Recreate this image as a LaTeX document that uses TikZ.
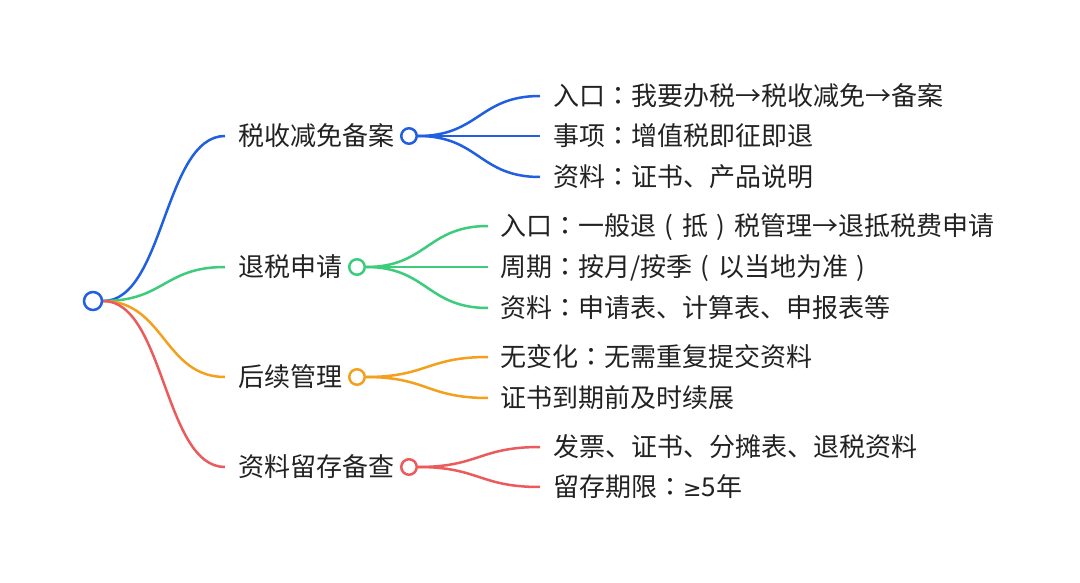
\documentclass[tikz,border=0pt]{standalone}
\usepackage{fontspec}
\setmainfont{Noto Sans CJK SC}
\newfontfamily\tcfont{Noto Sans CJK TC}
\newfontfamily\symfont{DejaVu Sans}
\newcommand\cln{{\tcfont ：}}
\newcommand\lpar{\makebox[1em]{(}}
\newcommand\rpar{\makebox[1em]{)}}
\usetikzlibrary{backgrounds}
\definecolor{cblue}{HTML}{1F5FE0}
\definecolor{cgreen}{HTML}{3DCB7C}
\definecolor{corange}{HTML}{F4A01C}
\definecolor{cred}{HTML}{EC5B5B}
\definecolor{ctext}{HTML}{222222}
\begin{document}
\begin{tikzpicture}[x=1pt,y=-1pt,
  txt/.style={anchor=west,inner sep=0pt,font=\fontsize{26}{30}\selectfont,text=ctext,text height=22.9pt,text depth=3.1pt},
  dot/.style={circle,draw,fill=white,line width=2.5pt,minimum size=15.5pt,inner sep=0pt},
  rootdot/.style={dot,minimum size=18pt},
  link/.style={line width=2.5pt}]
\useasboundingbox (0,0) rectangle (1080,583);

\node[rootdot,draw=cblue] (root) at (93,301) {};

% branch 1
\node[txt] (b1) at (238,136) {税收减免备案};
\node[dot,draw=cblue] (c1) at (409,136) {};
\node[txt] (k11) at (553,96) {入口\cln 我要办税→税收减免→备案};
\node[txt] (k12) at (553,136) {事项\cln 增值税即征即退};
\node[txt] (k13) at (553,177) {资料\cln 证书、产品说明};

% branch 2
\node[txt] (b2) at (238,267) {退税申请};
\node[dot,draw=cgreen] (c2) at (357,267) {};
\node[txt] (k21) at (500,226) {入口\cln 一般退\lpar 抵\rpar 税管理→退抵税费申请};
\node[txt] (k22) at (500,267) {周期\cln 按月/按季\lpar 以当地为准\rpar};
\node[txt] (k23) at (500,308) {资料\cln 申请表、计算表、申报表等};

% branch 3
\node[txt] (b3) at (238,377) {后续管理};
\node[dot,draw=corange] (c3) at (357,377) {};
\node[txt] (k31) at (500,357) {无变化\cln 无需重复提交资料};
\node[txt] (k32) at (500,398) {证书到期前及时续展};

% branch 4
\node[txt] (b4) at (238,467) {资料留存备查};
\node[dot,draw=cred] (c4) at (409,467) {};
\node[txt] (k41) at (553,447) {发票、证书、分摊表、退税资料};
\node[txt] (k42) at (553,487) {留存期限\cln {\symfont\fontsize{22}{26}\selectfont ≥}5年};

\begin{pgfonlayer}{background}
\fill[white] (0,0) rectangle (1080,583);
\foreach \b/\c in {b1/cblue,b2/cgreen,b3/corange,b4/cred}
  \draw[link,\c] (root.east) .. controls +(61,0) and +(-61,0) .. ([xshift=-13pt]\b.west);
\foreach \k in {k11,k12,k13}
  \draw[link,cblue] (c1.east) .. controls +(61,0) and +(-61,0) .. ([xshift=-13pt]\k.west);
\foreach \k in {k21,k22,k23}
  \draw[link,cgreen] (c2.east) .. controls +(61,0) and +(-61,0) .. ([xshift=-12pt]\k.west);
\foreach \k in {k31,k32}
  \draw[link,corange] (c3.east) .. controls +(61,0) and +(-61,0) .. ([xshift=-12pt]\k.west);
\foreach \k in {k41,k42}
  \draw[link,cred] (c4.east) .. controls +(61,0) and +(-61,0) .. ([xshift=-13pt]\k.west);
\end{pgfonlayer}
\end{tikzpicture}
\end{document}
